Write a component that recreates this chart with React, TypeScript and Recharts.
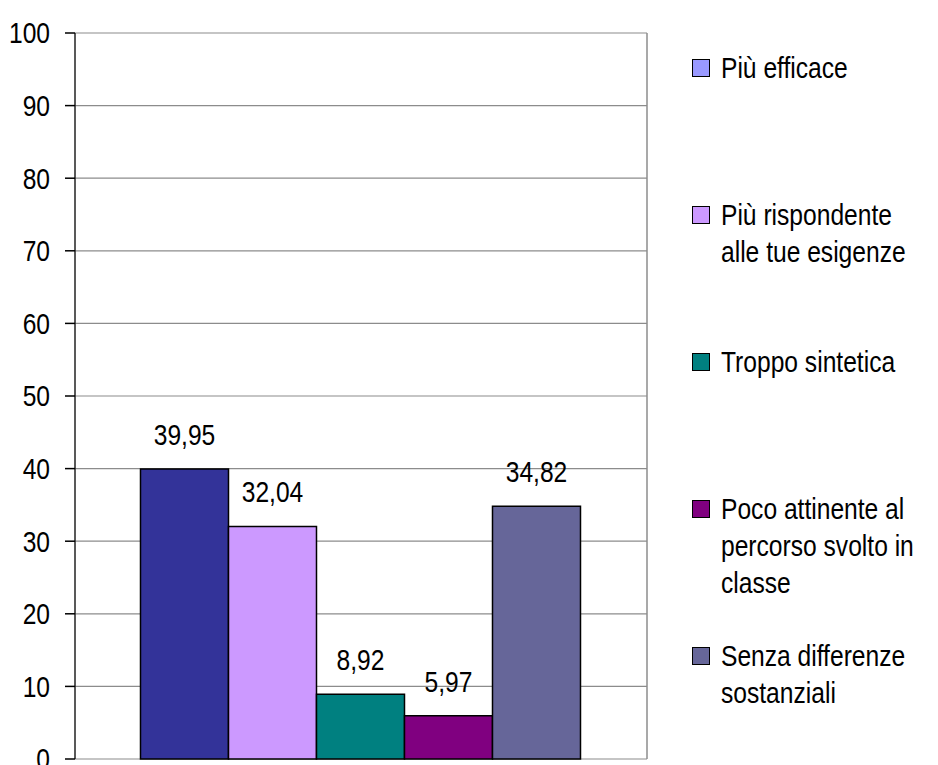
import React from 'react';
import { BarChart, Bar, XAxis, YAxis, CartesianGrid, LabelList } from 'recharts';

const seriesNames = [
  'Più efficace',
  'Più rispondente alle tue esigenze',
  'Troppo sintetica',
  'Poco attinente al percorso svolto in classe',
  'Senza differenze sostanziali',
];
const seriesValues = [39.95, 32.04, 8.92, 5.97, 34.82];
const barColors = ['#333399', '#CC99FF', '#008080', '#800080', '#666699'];
// the legend swatch of the first series is lighter than its bar in the original
const legendColors = ['#9999FF', '#CC99FF', '#008080', '#800080', '#666699'];
const legendLines = [
  ['Più efficace'],
  ['Più rispondente', 'alle tue esigenze'],
  ['Troppo sintetica'],
  ['Poco attinente al', 'percorso svolto in', 'classe'],
  ['Senza differenze', 'sostanziali'],
];
const yTicks = [0, 10, 20, 30, 40, 50, 60, 70, 80, 90, 100];

// no narrow font installed, so Liberation Sans gets squeezed horizontally
const FONT = "'Liberation Sans', Arial, sans-serif";
const SQUEEZE = 0.82;

// one category row, one key per series
const row: Record<string, number | string> = { name: '' };
seriesNames.forEach((n, i) => {
  row[`s${i}`] = seriesValues[i];
});
const data = [row];

const fmt = (v: any) => Number(v).toFixed(2).replace('.', ',');

const NarrowTick = ({ x, y, payload }: any) => (
  <text
    transform={`translate(${x},${y}) scale(${SQUEEZE},1)`}
    textAnchor="end"
    dominantBaseline="central"
    fontFamily={FONT}
    fontSize={30}
    fill="#000"
  >
    {payload.value}
  </text>
);

const NarrowLabel = ({ x, y, width, value }: any) => (
  <text
    transform={`translate(${x + width / 2},${y - 24}) scale(${SQUEEZE},1)`}
    textAnchor="middle"
    fontFamily={FONT}
    fontSize={30}
    fill="#000"
  >
    {fmt(value)}
  </text>
);

// legend drawn as plain html next to the plot (recharts' Legend would eat plot space)
const SideLegend = () => (
  <div style={{ position: 'absolute', left: 692, top: 49, width: 246, fontFamily: FONT, fontSize: 30, color: '#000' }}>
    {legendLines.map((lines, i) => (
      <div key={i} style={{ height: 147, display: 'flex', alignItems: 'flex-start' }}>
        <div style={{ width: 29, height: 37, display: 'flex', alignItems: 'center', flexShrink: 0 }}>
          <div
            style={{
              width: 16,
              height: 16,
              background: legendColors[i],
              border: '1.5px solid #000',
            }}
          />
        </div>
        <div
          style={{
            lineHeight: '37px',
            whiteSpace: 'nowrap',
            transform: `scaleX(${SQUEEZE})`,
            transformOrigin: 'left top',
          }}
        >
          {lines.map((l, j) => (
            <div key={j}>{l}</div>
          ))}
        </div>
      </div>
    ))}
  </div>
);

export default function App() {
  return (
    <div style={{ position: 'absolute', left: 0, top: 0, width: 938, height: 765, background: '#fff', overflow: 'hidden' }}>
      <BarChart
        width={938}
        height={765}
        data={data}
        margin={{ top: 33, right: 290, bottom: 6, left: 0 }}
        barCategoryGap="11.45%"
        barGap={0}
      >
        <CartesianGrid yAxisId="left" horizontal vertical={false} stroke="#8c8c8c" strokeWidth={1.2} />
        <XAxis dataKey="name" hide />
        <YAxis
          yAxisId="left"
          width={75}
          domain={[0, 100]}
          ticks={yTicks}
          interval={0}
          tickSize={10}
          tickMargin={15}
          axisLine={{ stroke: '#222', strokeWidth: 1.5 }}
          tickLine={{ stroke: '#000', strokeWidth: 1.5 }}
          tick={<NarrowTick />}
        />
        <YAxis
          yAxisId="right"
          orientation="right"
          width={1}
          domain={[0, 100]}
          tick={false}
          tickLine={false}
          axisLine={{ stroke: '#8c8c8c', strokeWidth: 1.5 }}
        />
        {seriesNames.map((n, i) => (
          <Bar
            key={n}
            yAxisId="left"
            dataKey={`s${i}`}
            name={n}
            fill={barColors[i]}
            stroke="#000"
            strokeWidth={1.5}
            isAnimationActive={false}
          >
            <LabelList dataKey={`s${i}`} content={<NarrowLabel />} />
          </Bar>
        ))}
      </BarChart>
      <SideLegend />
    </div>
  );
}
